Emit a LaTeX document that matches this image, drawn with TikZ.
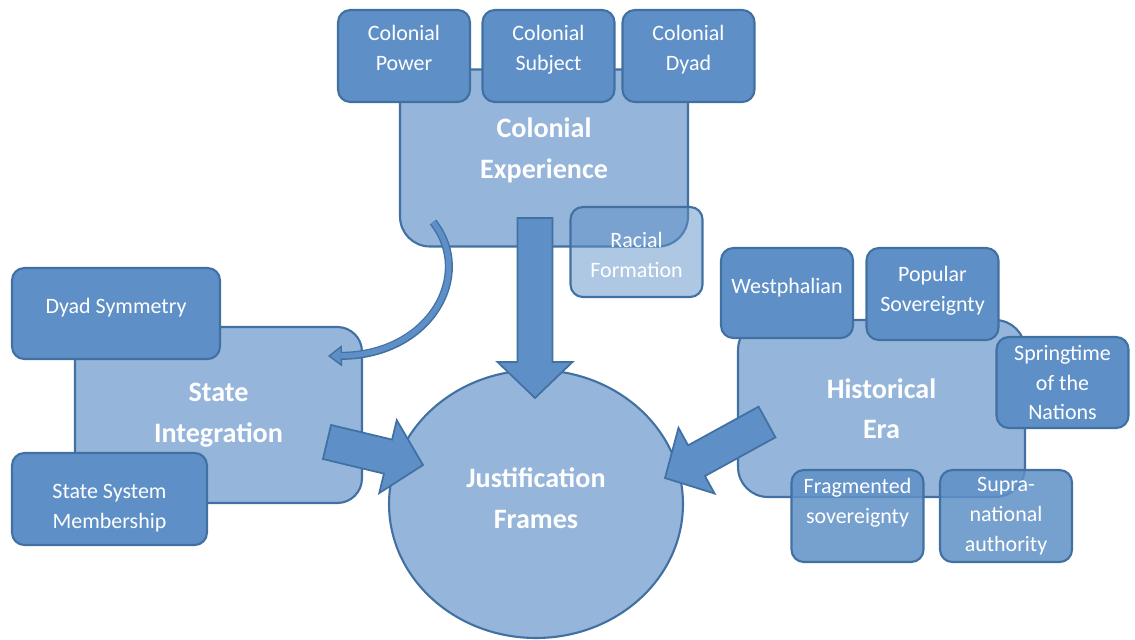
\documentclass[tikz,border=0pt]{standalone}
\usepackage{fontspec}
\setmainfont{Carlito}
\usepackage{tikz}
\usetikzlibrary{arrows.meta, positioning, shapes.geometric, calc}
\definecolor{BoxBorder}{RGB}{65, 113, 162}
\definecolor{DarkFill}{RGB}{94, 144, 199}
\definecolor{LightFill}{RGB}{149, 181, 219}

% fat block arrow between two named points
\newcommand{\blockarrow}[2]{%
  \coordinate (ah) at ($(#2)!0.72cm!(#1)$);
  \filldraw[fatarrow] ($(#1)!0.35cm!90:(#2)$) -- ($(ah)!0.35cm!90:(#2)$) -- ($(ah)!0.75cm!90:(#2)$)
    -- (#2) -- ($(ah)!0.75cm!-90:(#2)$) -- ($(ah)!0.35cm!-90:(#2)$) -- ($(#1)!0.35cm!-90:(#2)$) -- cycle;}

\begin{document}
\begin{tikzpicture}[
    x=0.02cm, y=-0.02cm,
    bigbox/.style={rectangle, draw=BoxBorder, fill=LightFill, line width=1.2pt, rounded corners=16pt,
      align=center, text=white, font=\fontsize{16}{23}\selectfont\bfseries},
    smallbox/.style={rectangle, draw=BoxBorder, fill=DarkFill, line width=1.2pt, rounded corners=7pt,
      minimum width=2.64cm, minimum height=1.84cm, align=center, text=white, font=\fontsize{12.5}{17}\selectfont},
    fatarrow/.style={draw=BoxBorder, fill=DarkFill, line width=1pt, line join=miter},
    lift/.style={text depth=#1},
    sink/.style={text height=#1},
  ]
  \useasboundingbox (0,0) rectangle (1135,639);

  % Main groups
  \node[bigbox, lift=11.4pt, minimum width=5.76cm, minimum height=3.54cm, rounded corners=17pt] (colexp) at (544,158) {Colonial\\Experience};
  \node[bigbox, minimum width=5.74cm, minimum height=3.52cm, rounded corners=14pt] (stateint) at (218.5,415) {State\\Integration};
  \node[bigbox, minimum width=5.74cm, minimum height=3.54cm, rounded corners=17pt] (histera) at (881.5,408.5) {Historical\\Era};
  \node[bigbox, lift=6.8pt, ellipse, minimum width=5.88cm, minimum height=5.36cm] (justif) at (536,504) {Justification\\Frames};

  % Colonial Experience dimensions
  \node[smallbox, lift=9pt] (colpower) at (404,56) {Colonial\\Power};
  \node[smallbox, lift=9pt] (colsubject) at (548.5,56) {Colonial\\Subject};
  \node[smallbox, lift=9pt] (coldyad) at (688.5,56) {Colonial\\Dyad};
  \node[smallbox, sink=29pt, minimum height=1.8cm, fill opacity=0.5, text opacity=1] (racial) at (636.5,252) {Racial\\Formation};

  % State Integration dimensions
  \node[smallbox, lift=9pt, minimum width=4.16cm, minimum height=1.82cm] (dyadsym) at (116,313.5) {Dyad Symmetry};
  \node[smallbox, sink=36pt, minimum width=3.9cm] (statesys) at (109.5,499) {State System\\Membership};

  % Historical Era dimensions
  \node[smallbox, lift=8pt, minimum height=1.8cm] (westph) at (787,293) {Westphalian};
  \node[smallbox, lift=5.7pt] (popsov) at (932.5,294) {Popular\\Sovereignty};
  \node[smallbox, minimum height=1.82cm] (spring) at (1062.5,382.5) {Springtime\\of the\\Nations};
  \node[smallbox, lift=17pt, fill opacity=0.85, text opacity=1] (fragsov) at (857.5,516) {Fragmented\\sovereignty};
  \node[smallbox, fill opacity=0.85, text opacity=1] (supra) at (1006,516) {Supra-\\national\\authority};

  % Arrows into Justification Frames
  \coordinate (downfrom) at (535,218);
  \coordinate (downto) at (535,398);
  \coordinate (leftfrom) at (327,442);
  \coordinate (leftto) at (423,465);
  \coordinate (rightfrom) at (767,422);
  \coordinate (rightto) at (665,478);
  \blockarrow{downfrom}{downto}
  \blockarrow{leftfrom}{leftto}
  \blockarrow{rightfrom}{rightto}

  % curved arrow from Colonial Experience to State Integration
  \coordinate (curvefrom) at (433,222);
  \coordinate (curveto) at (328,356);
  \draw[BoxBorder, line width=4.6pt, -{Triangle[length=8pt, width=12pt, line width=0.8pt, fill=DarkFill]},
    postaction={draw=DarkFill, line width=3pt, -, shorten >=7pt}]
    (curvefrom) .. controls (475,275) and (430,355) .. (curveto);
\end{tikzpicture}
\end{document}
